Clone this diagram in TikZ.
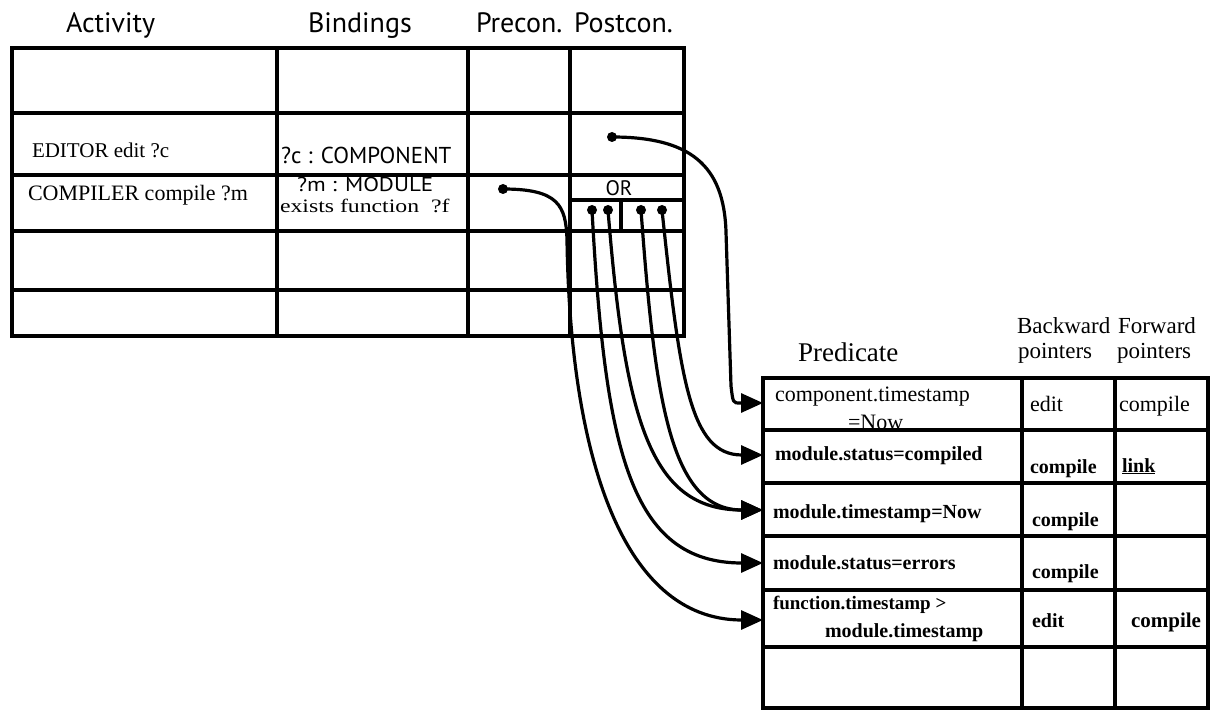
\documentclass[tikz,border=0pt]{standalone}
\usepackage{fontspec}
\setmainfont{Liberation Serif}
\newfontfamily\hsans{PT Sans}
\usetikzlibrary{arrows.meta}
\newcommand\fsz[1]{\fontsize{#1}{#1}\selectfont}
\begin{document}
\begin{tikzpicture}[x=1pt,y=-1pt,
  grid/.style={line width=3.2pt, line cap=rect},
  conn/.style={line width=3.2pt, -{Triangle[length=22pt,width=19pt]}},
  dotmark/.style={circle, fill, inner sep=0pt, minimum size=10pt},
  txt/.style={anchor=base west, inner sep=0pt, outer sep=0pt},
  hd/.style={txt, font=\hsans\fsz{28}},
  rhd/.style={txt, font=\fsz{23}},
  cellA/.style={txt, font=\fsz{22}},
  cellB/.style={txt, font=\bfseries\fsz{20}}]
\useasboundingbox (0,0) rectangle (1213,711);

% ---------- left table ----------
\draw[grid] (12,48) rectangle (684,336);
\foreach \yy in {113,175,231,290} \draw[grid] (12,\yy) -- (684,\yy);
\foreach \xx in {277,468,570} \draw[grid] (\xx,48) -- (\xx,336);
% OR box
\draw[grid] (570,200) -- (684,200);
\draw[grid] (621,200) -- (621,231);

\node[hd] (hAct) at (66,33) {Activity};
\node[hd] (hBind) at (308,33) {Bindings};
\node[hd] (hPre) at (476,33) {Precon.};
\node[hd] (hPost) at (574,33) {Postcon.};

\node[txt, font=\fsz{21}] (tEd) at (32,158) {EDITOR edit ?c};
\node[txt, font=\hsans\fsz{23}] (tComp) at (281,164) {?c : COMPONENT};
\node[txt, font=\fsz{22}] (tCo) at (28,201) {COMPILER compile ?m};
\node[txt, font=\hsans\fsz{20}] (tMod) at (297,192) {\scalebox{1.15}[1]{?m : MODULE}};
\node[txt, font=\fsz{19}] (tEx) at (280,213) {\scalebox{1.25}[1]{exists function \ ?f}};
\node[font=\hsans\fsz{21}, anchor=base, inner sep=0pt] (tOR) at (619,196) {OR};

% ---------- right table ----------
\draw[grid] (763,378) rectangle (1208,708);
\foreach \yy in {430,483,536,590,647} \draw[grid] (763,\yy) -- (1208,\yy);
\foreach \xx in {1022,1115} \draw[grid] (\xx,378) -- (\xx,708);

\node[txt, font=\fsz{27}] (hPred) at (798,362) {Predicate};
\node[rhd] (hB1) at (1017,334) {Backward};
\node[rhd] (hB2) at (1018,359) {pointers};
\node[rhd] (hF1) at (1118,334) {Forward};
\node[rhd] (hF2) at (1117,359) {pointers};

\node[cellA] (p1a) at (775,401) {component.timestamp};
\node[cellA] (p1b) at (848,429) {=Now};
\node[cellA] (b1) at (1030,411) {edit};
\node[cellA] (f1) at (1119,411) {compile};

\node[cellB] (p2) at (775,460) {module.status=compiled};
\node[cellB] (b2) at (1030,473) {compile};
\node[cellB] (f2) at (1122,472) {\underline{link}};

\node[cellB] (p3) at (773,518) {module.timestamp=Now};
\node[cellB] (b3) at (1032,526) {compile};

\node[cellB] (p4) at (773,569) {module.status=errors};
\node[cellB] (b4) at (1032,578) {compile};

\node[cellB, font=\bfseries\fsz{19}] (p5a) at (773,609) {function.timestamp >};
\node[cellB] (p5b) at (825,637) {module.timestamp};
\node[cellB] (b5) at (1032,627) {edit};
\node[cellB, font=\bfseries\fsz{21}] (f5) at (1131,627) {compile};

% ---------- dots and targets ----------
\node[dotmark] (dPost) at (612,137) {};
\node[dotmark] (dPre) at (503,189) {};
\node[dotmark] (o1) at (592,210) {};
\node[dotmark] (o2) at (608,210) {};
\node[dotmark] (o3) at (641,210) {};
\node[dotmark] (o4) at (662,210) {};

\coordinate (t1) at (763,403);
\coordinate (t2) at (763,455);
\coordinate (t3) at (763,510);
\coordinate (t4) at (763,563);
\coordinate (t5) at (763,620);

% ---------- connectors ----------
\draw[conn] (dPost.center) .. controls (690,137) and (724,165) .. (726,232)
   -- (731,386) .. controls (733,403) .. (740,403) -- (t1);
\draw[conn] (o4.center) .. controls (680,380) and (690,455) .. (742,455) -- (t2);
\draw[conn] (o3.center) .. controls (655,400) and (670,510) .. (742,510) -- (t3);
\draw[conn] (o2.center) .. controls (625,420) and (650,510) .. (742,510) -- (t3);
\draw[conn] (o1.center) .. controls (605,450) and (630,563) .. (742,563) -- (t4);
\draw[conn] (dPre.center) .. controls (558,189) and (566,205) .. (567,240)
   .. controls (570,450) and (620,620) .. (742,620) -- (t5);
\end{tikzpicture}
\end{document}
